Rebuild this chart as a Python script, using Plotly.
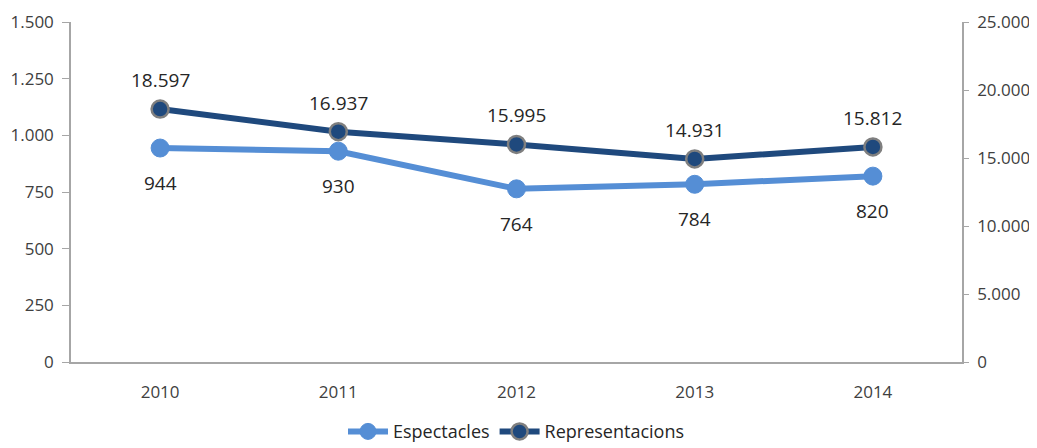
import plotly.graph_objects as go

years = ["2010", "2011", "2012", "2013", "2014"]
espectacles = [944, 930, 764, 784, 820]
representacions = [18597, 16937, 15995, 14931, 15812]

light = "#558ED5"
dark = "#1F497D"
axis_col = "#A6A6A6"
text_col = "#404040"
font_family = "Open Sans"


def fmt(v):
    return f"{v:,}".replace(",", ".")


fig = go.Figure()

fig.add_trace(go.Scatter(
    x=years, y=espectacles, name="Espectacles",
    mode="lines+markers",
    line=dict(color=light, width=6),
    marker=dict(size=18, color=light, line=dict(color=light, width=1)),
    yaxis="y",
))

fig.add_trace(go.Scatter(
    x=years, y=representacions, name="Representacions",
    mode="lines+markers",
    line=dict(color=dark, width=6),
    marker=dict(size=17, color=dark, line=dict(color="#7F7F7F", width=2.5)),
    yaxis="y2",
))

# data labels: Espectacles below, Representacions above
# (category index for x, numeric-looking strings would be read as indices)
for i, v in enumerate(espectacles):
    fig.add_annotation(x=i, y=v, xref="x", yref="y", text=fmt(v),
                       showarrow=False, yshift=-35,
                       font=dict(size=19, color="#262626", family=font_family))
for i, v in enumerate(representacions):
    fig.add_annotation(x=i, y=v, xref="x", yref="y2", text=fmt(v),
                       showarrow=False, yshift=29,
                       font=dict(size=19, color="#262626", family=font_family))

fig.update_layout(
    width=1029, height=440,
    margin=dict(l=63, r=75, t=14, b=86, autoexpand=False),
    paper_bgcolor="white", plot_bgcolor="white",
    separators=",.",
    font=dict(family=font_family, size=17, color=text_col),
    showlegend=True,
    legend=dict(orientation="h", x=0.5, xanchor="center", y=-0.205, yanchor="middle",
                font=dict(size=18, color="#262626"), itemwidth=40),
    xaxis=dict(type="category", range=[-0.5, 4.5], showgrid=False, showline=True,
               linecolor=axis_col, linewidth=1.5, ticks="", ticklabelstandoff=14,
               tickfont=dict(size=17), zeroline=False),
    yaxis=dict(range=[0, 1500], dtick=250, showgrid=False, showline=True,
               linecolor=axis_col, linewidth=1.5, ticks="outside", ticklen=7,
               tickcolor=axis_col, tickformat=",d", ticklabelstandoff=5,
               tickfont=dict(size=17), zeroline=False),
    yaxis2=dict(range=[0, 25000], dtick=5000, overlaying="y", side="right",
                showgrid=False, showline=True, linecolor=axis_col, linewidth=1.5,
                ticks="outside", ticklen=5, tickcolor=axis_col, tickformat=",d",
                ticklabelstandoff=5, tickfont=dict(size=17), zeroline=False),
)

fig.write_html("out.html")
